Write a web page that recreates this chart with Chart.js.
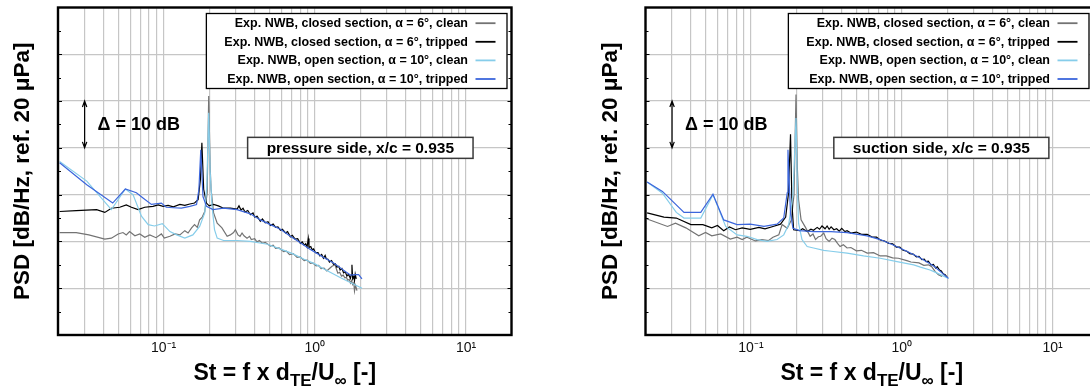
<!DOCTYPE html>
<html>
<head>
<meta charset="utf-8">
<script src="https://cdn.jsdelivr.net/npm/chart.js@4.4.1/dist/chart.umd.min.js"></script>
<style>
  html, body { margin: 0; padding: 0; background: #fff; }
  body { width: 1090px; height: 390px; overflow: hidden; position: relative; }
  canvas { position: absolute; top: 0; }
  #left { left: 0; }
  #right { left: 545px; }
</style>
</head>
<body>
<canvas id="left" width="545" height="390"></canvas>
<canvas id="right" width="560" height="390"></canvas>
<script>
// legend labels and colours
const seriesLabels = [
  "Exp. NWB, closed section, α = 6°, clean",
  "Exp. NWB, closed section, α = 6°, tripped",
  "Exp. NWB, open section, α = 10°, clean",
  "Exp. NWB, open section, α = 10°, tripped"
];
const seriesColors = ["#737373", "#000000", "#86cdea", "#3c66dc"];

// axis ranges and tick labels
const xMin = 0.02, xMax = 20;
const yMin = 0, yMax = 70;
const xMajorTicks = [0.1, 1, 10];
const xTickLabels = ["10⁻¹", "10⁰", "10¹"];
const xDecades = [0.01, 0.1, 1, 10];

// ---- pressure side (left) ----
const stPsClean = [0.0205, 0.0264, 0.032, 0.0408, 0.0451, 0.05, 0.0538, 0.0566, 0.0595, 0.0645, 0.0695, 0.075, 0.081, 0.089, 0.0966, 0.101, 0.11, 0.119, 0.128, 0.138, 0.145, 0.153, 0.16, 0.167, 0.173, 0.18, 0.187, 0.194, 0.1986, 0.203, 0.206, 0.214, 0.226, 0.243, 0.263, 0.276, 0.29, 0.298, 0.31, 0.32, 0.33, 0.34, 0.356, 0.37, 0.38, 0.4, 0.414, 0.43, 0.45, 0.47, 0.508, 0.53, 0.55, 0.58, 0.622, 0.65, 0.68, 0.72, 0.763, 0.8, 0.85, 0.89, 0.934, 0.97, 1.02, 1.06, 1.1, 1.15, 1.2, 1.25, 1.3, 1.36, 1.4, 1.42, 1.46, 1.5, 1.54, 1.58, 1.62, 1.65, 1.69, 1.72, 1.75, 1.78, 1.81, 1.83, 1.86, 1.9];
const dbPsClean = [21.9, 21.9, 21.4, 20.5, 20.7, 21.6, 21.9, 21.4, 22.1, 21.2, 21.6, 20.9, 21.4, 20.8, 21.6, 20.7, 21.1, 21.6, 21.4, 22.3, 21.8, 22.9, 23.6, 23.0, 24.6, 25.2, 26.4, 30.4, 51.1, 36.0, 31.1, 26.1, 23.9, 22.9, 21.1, 21.4, 21.9, 22.5, 21.4, 21.1, 21.8, 21.2, 20.7, 21.1, 20.4, 20.6, 19.9, 20.2, 19.6, 19.8, 19.0, 19.2, 18.5, 18.6, 17.8, 17.9, 17.2, 17.4, 16.6, 16.7, 15.9, 16.0, 15.3, 15.4, 14.8, 14.9, 14.2, 14.3, 13.7, 14.2, 14.7, 15.0, 13.8, 13.2, 13.4, 12.6, 12.8, 12.2, 12.3, 11.7, 11.9, 11.1, 11.6, 10.8, 11.2, 9.4, 10.6, 9.5];

const stPsTripped = [0.0205, 0.0264, 0.036, 0.0408, 0.0451, 0.0512, 0.0566, 0.0612, 0.0677, 0.075, 0.085, 0.092, 0.099, 0.107, 0.116, 0.128, 0.138, 0.149, 0.16, 0.169, 0.175, 0.179, 0.184, 0.192, 0.2, 0.214, 0.23, 0.249, 0.276, 0.306, 0.315, 0.325, 0.335, 0.345, 0.36, 0.375, 0.39, 0.4, 0.415, 0.436, 0.45, 0.47, 0.49, 0.508, 0.53, 0.55, 0.57, 0.592, 0.61, 0.64, 0.66, 0.689, 0.71, 0.74, 0.77, 0.802, 0.825, 0.85, 0.87, 0.888, 0.905, 0.915, 0.94, 0.96, 0.982, 1.01, 1.05, 1.08, 1.11, 1.14, 1.17, 1.19, 1.22, 1.25, 1.29, 1.33, 1.37, 1.4, 1.44, 1.47, 1.51, 1.55, 1.59, 1.63, 1.67, 1.72, 1.74, 1.76, 1.78, 1.81, 1.83, 1.85, 1.88];
const dbPsTripped = [26.4, 26.6, 26.8, 26.2, 27.1, 27.3, 27.8, 27.3, 26.8, 27.3, 27.5, 27.8, 27.5, 27.7, 27.4, 27.9, 27.7, 28.0, 28.2, 28.9, 33.2, 41.1, 31.1, 28.2, 27.6, 27.9, 27.6, 27.1, 27.1, 26.9, 27.6, 26.7, 27.1, 26.3, 26.6, 25.7, 26.1, 25.2, 25.4, 24.3, 24.8, 24.0, 24.2, 23.4, 23.7, 23.0, 23.1, 22.4, 22.6, 21.8, 22.1, 21.0, 21.3, 20.5, 20.6, 19.6, 19.9, 19.2, 19.5, 18.8, 20.6, 18.7, 18.9, 18.2, 18.4, 17.6, 17.6, 16.9, 17.2, 16.4, 17.0, 16.3, 16.2, 15.6, 15.9, 15.1, 15.2, 14.5, 14.7, 13.9, 14.2, 13.3, 13.5, 12.6, 13.0, 12.1, 12.8, 15.0, 12.0, 12.5, 11.6, 13.0, 12.0];

const stPsOpenClean = [0.0205, 0.031, 0.0451, 0.0558, 0.0627, 0.0713, 0.079, 0.087, 0.098, 0.11, 0.122, 0.138, 0.156, 0.173, 0.187, 0.193, 0.1986, 0.203, 0.209, 0.217, 0.226, 0.249, 0.306, 0.375, 0.486, 0.6, 0.7, 0.85, 1.0, 1.15, 1.3, 1.47, 1.6, 1.8, 2.05];
const dbPsOpenClean = [37.1, 32.9, 26.8, 31.2, 30.0, 25.4, 23.6, 23.3, 23.8, 22.1, 21.4, 20.7, 21.4, 23.2, 26.1, 32.0, 47.5, 35.0, 27.5, 22.5, 20.7, 20.2, 20.2, 20.0, 19.4, 18.3, 17.5, 16.2, 15.2, 14.1, 13.2, 12.3, 11.7, 10.9, 10.0];

const stPsOpenTripped = [0.0205, 0.031, 0.046, 0.0558, 0.066, 0.073, 0.083, 0.0966, 0.104, 0.116, 0.131, 0.149, 0.165, 0.171, 0.176, 0.182, 0.192, 0.212, 0.249, 0.306, 0.375, 0.436, 0.508, 0.592, 0.689, 0.802, 0.934, 1.14, 1.33, 1.47, 1.6, 1.72, 1.85, 1.95, 2.05];
const dbPsOpenTripped = [36.8, 32.1, 28.2, 31.2, 30.4, 29.3, 27.9, 28.2, 27.3, 27.2, 27.1, 27.5, 27.9, 31.1, 39.6, 29.6, 27.5, 26.8, 27.1, 26.8, 25.9, 24.6, 23.6, 22.6, 21.1, 19.7, 18.3, 16.6, 15.4, 14.4, 13.5, 12.8, 12.9, 12.9, 12.0];

// ---- suction side (right) ----
const stSsClean = [0.0205, 0.028, 0.0316, 0.037, 0.0451, 0.05, 0.055, 0.063, 0.073, 0.081, 0.0875, 0.094, 0.107, 0.118, 0.131, 0.14, 0.153, 0.161, 0.174, 0.185, 0.193, 0.199, 0.203, 0.207, 0.215, 0.23, 0.247, 0.258, 0.268, 0.28, 0.29, 0.304, 0.315, 0.33, 0.345, 0.36, 0.375, 0.39, 0.41, 0.434, 0.46, 0.5, 0.54, 0.59, 0.65, 0.72, 0.79, 0.87, 0.95, 1.08, 1.15, 1.3, 1.4, 1.5, 1.58, 1.66, 1.75, 1.85];
const dbSsClean = [24.8, 23.2, 23.9, 22.9, 21.2, 21.9, 21.2, 21.6, 20.5, 20.9, 20.4, 20.9, 20.1, 20.4, 20.2, 20.9, 21.4, 23.6, 22.8, 24.5, 30.0, 51.4, 36.0, 28.9, 24.6, 23.0, 21.1, 21.6, 20.4, 21.0, 21.1, 21.8, 20.6, 20.0, 20.7, 20.4, 19.6, 18.9, 19.3, 18.6, 18.7, 18.0, 18.1, 17.5, 17.6, 16.9, 16.9, 16.5, 16.4, 15.9, 15.6, 15.4, 14.9, 15.0, 14.6, 13.6, 12.9, 12.5];

const stSsTripped = [0.0205, 0.0265, 0.032, 0.04, 0.048, 0.055, 0.06, 0.066, 0.072, 0.079, 0.0875, 0.099, 0.113, 0.124, 0.14, 0.157, 0.17, 0.177, 0.183, 0.187, 0.192, 0.21, 0.22, 0.236, 0.25, 0.26, 0.275, 0.285, 0.296, 0.31, 0.32, 0.33, 0.34, 0.355, 0.37, 0.385, 0.4, 0.42, 0.434, 0.46, 0.5, 0.54, 0.59, 0.64, 0.68, 0.72, 0.77, 0.82, 0.87, 0.92, 0.97, 1.02, 1.08, 1.13, 1.19, 1.25, 1.3, 1.36, 1.41, 1.45, 1.5, 1.56, 1.62, 1.68, 1.72, 1.78, 1.83, 1.88, 1.94, 2.0];
const dbSsTripped = [26.1, 25.2, 25.0, 23.6, 23.6, 22.9, 23.4, 22.3, 23.1, 22.5, 22.9, 22.6, 23.0, 22.7, 23.2, 23.7, 25.2, 30.0, 42.9, 28.0, 22.5, 22.3, 22.7, 22.1, 22.6, 22.4, 23.0, 22.6, 23.3, 22.7, 23.3, 22.6, 23.1, 22.5, 22.7, 22.2, 22.8, 22.1, 22.3, 21.8, 22.0, 21.5, 21.5, 20.9, 20.9, 20.3, 20.1, 19.6, 19.5, 18.8, 18.8, 18.1, 17.9, 17.4, 17.3, 16.7, 16.8, 16.1, 16.2, 15.7, 15.8, 15.0, 15.1, 14.3, 14.6, 13.9, 13.7, 13.1, 12.9, 12.3];

const stSsOpenClean = [0.0205, 0.0259, 0.032, 0.036, 0.0465, 0.056, 0.068, 0.081, 0.094, 0.11, 0.128, 0.149, 0.165, 0.178, 0.19, 0.199, 0.203, 0.207, 0.218, 0.236, 0.26, 0.304, 0.34, 0.434, 0.558, 0.72, 0.93, 1.2, 1.33, 1.54, 1.62, 2.04];
const dbSsOpenClean = [32.7, 30.3, 26.2, 25.0, 25.0, 30.0, 23.2, 21.4, 21.1, 20.4, 20.0, 20.4, 21.4, 23.6, 30.0, 46.4, 32.0, 23.9, 20.4, 18.9, 18.6, 18.1, 17.9, 17.5, 16.9, 16.4, 15.7, 15.0, 14.5, 13.9, 13.6, 12.1];

const stSsOpenTripped = [0.0205, 0.0259, 0.036, 0.0465, 0.056, 0.066, 0.081, 0.099, 0.122, 0.149, 0.165, 0.174, 0.176, 0.183, 0.19, 0.21, 0.26, 0.34, 0.434, 0.59, 0.72, 0.87, 1.08, 1.3, 1.62, 2.04];
const dbSsOpenTripped = [32.7, 30.7, 26.2, 26.2, 30.1, 24.6, 23.6, 23.7, 23.2, 23.7, 25.0, 30.4, 39.6, 26.0, 22.8, 22.3, 22.1, 22.1, 21.9, 21.2, 20.4, 19.3, 17.9, 16.6, 14.8, 12.1];

const FONT = '"Liberation Sans", Arial, Helvetica, sans-serif';

// gridline positions 1..9 x decade inside the range
const xGridValues = [];
xDecades.forEach(d => {
  for (let m = 1; m <= 9; m++) {
    const v = +(m * d).toPrecision(6);
    if (v >= xMin - 1e-9 && v <= xMax + 1e-9) xGridValues.push(v);
  }
});

function tickLabel(v) {
  const k = xMajorTicks.findIndex(m => Math.abs(m - v) / m < 1e-6);
  return k >= 0 ? xTickLabels[k] : "";
}

const decorPlugin = {
  id: "decor",
  afterDraw(chart) {
    const ctx = chart.ctx;
    const a = chart.chartArea;
    const xs = chart.scales.x, ys = chart.scales.y;
    const opt = chart.options.plugins.decor;
    ctx.save();

    // small inward ticks on left and right border
    ctx.strokeStyle = "#000";
    ctx.lineWidth = 1;
    ys.ticks.forEach(t => {
      if (t.value <= yMin || t.value >= yMax) return;
      const py = Math.round(ys.getPixelForValue(t.value)) + 0.5;
      const len = t.value % 10 === 0 ? 4 : 3;
      ctx.beginPath();
      ctx.moveTo(a.left, py); ctx.lineTo(a.left + len, py);
      ctx.moveTo(a.right, py); ctx.lineTo(a.right - len, py);
      ctx.stroke();
    });

    // frame
    ctx.lineWidth = 2.4;
    ctx.strokeRect(a.left, a.top, a.right - a.left, a.bottom - a.top);

    // delta = 10 dB arrow
    const ax = xs.getPixelForValue(0.03);
    const y1 = ys.getPixelForValue(50), y2 = ys.getPixelForValue(40);
    ctx.lineWidth = 1.2;
    ctx.beginPath();
    ctx.moveTo(ax, y1); ctx.lineTo(ax, y2);
    ctx.moveTo(ax - 2.2, y1 + 6); ctx.lineTo(ax, y1); ctx.lineTo(ax + 2.2, y1 + 6);
    ctx.moveTo(ax - 2.2, y2 - 6); ctx.lineTo(ax, y2); ctx.lineTo(ax + 2.2, y2 - 6);
    ctx.stroke();
    ctx.fillStyle = "#000";
    ctx.font = "bold 18px " + FONT;
    ctx.textAlign = "left";
    ctx.textBaseline = "middle";
    ctx.fillText("Δ = 10 dB", ax + 13, ys.getPixelForValue(45) + 1);

    // side label box
    ctx.font = "bold 15.5px " + FONT;
    const bw = ctx.measureText(opt.boxText).width + 38;
    const bcx = xs.getPixelForValue(opt.boxSt);
    const bcy = ys.getPixelForValue(40);
    ctx.fillStyle = "#fff";
    ctx.fillRect(bcx - bw / 2, bcy - 10.5, bw, 21);
    ctx.strokeStyle = "#3a3a3a";
    ctx.lineWidth = 1.5;
    ctx.strokeRect(bcx - bw / 2, bcy - 10.5, bw, 21);
    ctx.fillStyle = "#000";
    ctx.textAlign = "center";
    ctx.fillText(opt.boxText, bcx, bcy + 1);

    // legend
    ctx.font = "bold 12.5px " + FONT;
    const labels = chart.data.datasets.map(d => d.label);
    const maxW = Math.max(...labels.map(l => ctx.measureText(l).width));
    const lr = a.right - opt.legendInset, lt = a.top + 6;
    const lw = maxW + 18 + 39, lh = 75;
    ctx.fillStyle = "#fff";
    ctx.fillRect(lr - lw, lt, lw, lh);
    ctx.strokeStyle = "#000";
    ctx.lineWidth = 1.3;
    ctx.strokeRect(lr - lw, lt, lw, lh);
    ctx.textAlign = "right";
    chart.data.datasets.forEach((d, i) => {
      const cy = lt + 9.7 + i * 18.6;
      ctx.fillStyle = "#000";
      ctx.fillText(d.label, lr - 39, cy + 0.5);
      ctx.strokeStyle = d.borderColor;
      ctx.lineWidth = 1.8;
      ctx.beginPath();
      ctx.moveTo(lr - 31.5, cy); ctx.lineTo(lr - 11.5, cy);
      ctx.stroke();
    });

    // x axis title with subscripts
    const parts = [["St = f x d", 0], ["TE", 1], ["/U", 0], ["∞", 1], [" [-]", 0]];
    const mainF = "bold 23px " + FONT, subF = "bold 17px " + FONT;
    let total = 0;
    parts.forEach(p => { ctx.font = p[1] ? subF : mainF; total += ctx.measureText(p[0]).width; });
    let px = (a.left + a.right) / 2 - total / 2;
    ctx.textAlign = "left";
    ctx.textBaseline = "alphabetic";
    ctx.fillStyle = "#000";
    parts.forEach(p => {
      ctx.font = p[1] ? subF : mainF;
      ctx.fillText(p[0], px, p[1] ? 386 : 380);
      px += ctx.measureText(p[0]).width;
    });
    ctx.restore();
  }
};

function makeChart(id, series, boxText, boxSt, padLeft, padRight, legendInset) {
  const datasets = series.map((s, i) => ({
    label: seriesLabels[i],
    data: s[0].map((v, k) => ({ x: v, y: s[1][k] })),
    borderColor: seriesColors[i],
    borderWidth: 1.2,
    pointRadius: 0,
    tension: 0,
    fill: false,
    order: 4 - i
  }));
  return new Chart(document.getElementById(id), {
    type: "line",
    data: { datasets },
    options: {
      responsive: false,
      animation: false,
      events: [],
      layout: { padding: { left: padLeft, right: padRight, top: 7.5, bottom: 0 } },
      plugins: {
        legend: { display: false },
        tooltip: { enabled: false },
        decor: { boxText, boxSt, legendInset }
      },
      scales: {
        x: {
          type: "logarithmic",
          min: xMin,
          max: xMax,
          afterBuildTicks: s => { s.ticks = xGridValues.map(v => ({ value: v })); },
          afterFit: s => { s.height = 55; },
          border: { display: false },
          grid: { color: "#c6c6c6", lineWidth: 1.2, drawTicks: false },
          ticks: {
            autoSkip: false, maxRotation: 0, minRotation: 0, padding: 5,
            color: "#111", font: { family: FONT, size: 14 },
            callback: v => tickLabel(v)
          }
        },
        y: {
          min: yMin,
          max: yMax,
          afterFit: s => { s.width = 58; },
          border: { display: false },
          grid: {
            drawTicks: false, lineWidth: 1.2,
            color: c => (c.tick.value % 10 === 0 ? "#c6c6c6" : "rgba(0,0,0,0)")
          },
          ticks: { display: false, stepSize: 5 },
          title: {
            display: true,
            text: "PSD [dB/Hz, ref. 20 μPa]",
            color: "#000",
            font: { family: FONT, size: 22.5, weight: "bold" },
            padding: { top: 9.5, bottom: 0 }
          }
        }
      }
    },
    plugins: [decorPlugin]
  });
}

makeChart("left", [
  [stPsClean, dbPsClean],
  [stPsTripped, dbPsTripped],
  [stPsOpenClean, dbPsOpenClean],
  [stPsOpenTripped, dbPsOpenTripped]
], "pressure side, x/c = 0.935", 2.0, 0, 33.5, 4.5);

makeChart("right", [
  [stSsClean, dbSsClean],
  [stSsTripped, dbSsTripped],
  [stSsOpenClean, dbSsOpenClean],
  [stSsOpenTripped, dbSsOpenTripped]
], "suction side, x/c = 0.935", 1.83, 42.5, 7, 9);
</script>
</body>
</html>
